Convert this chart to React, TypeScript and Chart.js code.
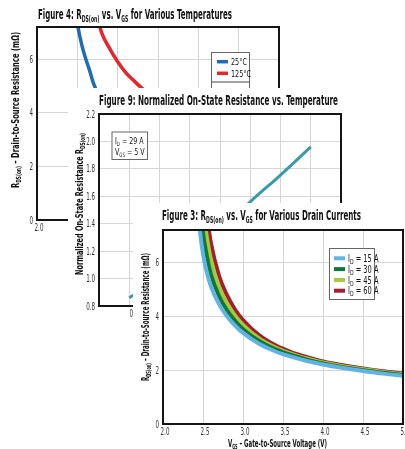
import { useEffect, useRef } from "react";
import { Chart, registerables } from "chart.js";

Chart.register(...registerables);

const FONT = '"Liberation Sans Narrow", "DejaVu Sans Condensed", "Liberation Sans", sans-serif';
const TICK_COLOR = "#333";
const GRID_COLOR = "#d6d6d6";

// ---- Figure 4: RDS(on) vs. VGS at two junction temperatures
const fig4Vgs25 = [2.45, 2.5, 2.55, 2.6, 2.65, 2.7, 2.8, 2.9, 3.0, 3.5, 4.0, 4.5, 5.0];
const fig4Rds25 = [8.6, 7.35, 6.6, 6.05, 5.6, 5.1, 4.45, 4.0, 3.65, 2.7, 2.25, 2.0, 1.85];
const fig4Vgs125 = [2.7, 2.75, 2.8, 2.9, 3.0, 3.1, 3.2, 3.3, 3.5, 4.0, 4.5, 5.0];
const fig4Rds125 = [8.6, 7.6, 7.0, 6.4, 5.9, 5.5, 5.2, 4.92, 4.45, 3.7, 3.3, 3.05];
const fig4Labels = ["25°C", "125°C"];
const fig4Colors = ["#1f6bb5", "#e5262d"];

// ---- Figure 9: normalized RDS(on) vs. junction temperature
const fig9Temp = [0, 25, 50, 75, 100, 125, 150];
const fig9Rnorm = [0.86, 1.0, 1.16, 1.35, 1.56, 1.755, 1.96];
const fig9Color = "#3b9aa8";

// ---- Figure 3: RDS(on) vs. VGS for four drain currents
const fig3Vgs = [2.4, 2.45, 2.5, 2.55, 2.6, 2.7, 2.8, 2.9, 3.0, 3.2, 3.4, 3.6, 3.8, 4.0, 4.25, 4.5, 4.75, 5.0];
const fig3Rds15 = [9.5, 7.5, 6.3, 5.6, 5.1, 4.45, 4.0, 3.65, 3.38, 2.98, 2.7, 2.5, 2.34, 2.21, 2.08, 1.97, 1.87, 1.79];
const fig3Rds30 = [11, 8.6, 7.1, 6.2, 5.55, 4.75, 4.22, 3.83, 3.52, 3.08, 2.78, 2.56, 2.39, 2.25, 2.11, 2.0, 1.9, 1.82];
const fig3Rds45 = [12.5, 9.8, 8.0, 6.9, 6.1, 5.1, 4.48, 4.02, 3.68, 3.18, 2.85, 2.61, 2.43, 2.28, 2.14, 2.03, 1.93, 1.85];
const fig3Rds60 = [14, 11, 9.0, 7.7, 6.7, 5.5, 4.78, 4.25, 3.86, 3.3, 2.93, 2.67, 2.48, 2.32, 2.18, 2.06, 1.96, 1.88];
const fig3Currents = [15, 30, 45, 60];
const fig3Colors = ["#62b3e3", "#0c7a3f", "#a5c93a", "#a31f2f"];

type Seg = { t: string; sub?: boolean };
type RichItem = {
  x: number;
  y: number;
  segs: Seg[];
  size: number;
  bold?: boolean;
  rotate?: boolean;
  align?: "left" | "center" | "right";
  fit?: number;
  sx?: number;
  color?: string;
};

// Draws a line of text with optional subscript runs, condensed horizontally.
function drawRich(ctx: CanvasRenderingContext2D, it: RichItem) {
  const w8 = it.bold ? "bold " : "";
  const main = `${w8}${it.size}px ${FONT}`;
  const sub = `${w8}${Math.round(it.size * 0.66)}px ${FONT}`;
  ctx.save();
  let natural = 0;
  for (const s of it.segs) {
    ctx.font = s.sub ? sub : main;
    natural += ctx.measureText(s.t).width;
  }
  const sx = it.fit ? it.fit / natural : it.sx ?? 1;
  ctx.translate(it.x, it.y);
  if (it.rotate) ctx.rotate(-Math.PI / 2);
  ctx.scale(sx, 1);
  ctx.fillStyle = it.color ?? "#111";
  ctx.textBaseline = "alphabetic";
  ctx.textAlign = "left";
  let cx = it.align === "center" ? -natural / 2 : it.align === "right" ? -natural : 0;
  const base = it.size * 0.36;
  for (const s of it.segs) {
    ctx.font = s.sub ? sub : main;
    ctx.fillText(s.t, cx, s.sub ? base + it.size * 0.2 : base);
    cx += ctx.measureText(s.t).width;
  }
  ctx.restore();
}

// Condensed tick labels for both axes, taken from the scales' own ticks.
function drawTickLabels(chart: Chart, fmtX: (v: number) => string, fmtY: (v: number) => string) {
  const ctx = chart.ctx;
  const a = chart.chartArea;
  const xs: any = chart.scales.x;
  const ys: any = chart.scales.y;
  for (const t of xs.ticks) {
    const s = fmtX(t.value);
    if (!s) continue;
    drawRich(ctx, { x: xs.getPixelForValue(t.value) + 2, y: a.bottom + 7, size: 10, sx: 0.62, align: "center", color: TICK_COLOR, segs: [{ t: s }] });
  }
  for (const t of ys.ticks) {
    const s = fmtY(t.value);
    if (!s) continue;
    drawRich(ctx, { x: a.left - 4, y: ys.getPixelForValue(t.value), size: 10, sx: 0.62, align: "right", color: TICK_COLOR, segs: [{ t: s }] });
  }
}

function drawFrame(chart: Chart) {
  const { ctx, chartArea: a } = chart;
  ctx.save();
  ctx.strokeStyle = "#151515";
  ctx.lineWidth = 2;
  ctx.strokeRect(a.left, a.top, a.right - a.left, a.bottom - a.top);
  ctx.restore();
}

function legendBox(ctx: CanvasRenderingContext2D, x0: number, y0: number, x1: number, y1: number) {
  ctx.save();
  ctx.fillStyle = "#fff";
  ctx.fillRect(x0, y0, x1 - x0, y1 - y0);
  ctx.strokeStyle = "#666";
  ctx.lineWidth = 1;
  ctx.strokeRect(x0 + 0.5, y0 + 0.5, x1 - x0, y1 - y0);
  ctx.restore();
}

function legendLine(ctx: CanvasRenderingContext2D, x0: number, x1: number, y: number, color: string, w: number) {
  ctx.save();
  ctx.strokeStyle = color;
  ctx.lineWidth = w;
  ctx.beginPath();
  ctx.moveTo(x0, y);
  ctx.lineTo(x1, y);
  ctx.stroke();
  ctx.restore();
}

type Box = { w: number; h: number; l: number; t: number; r: number; b: number };

function baseOptions(box: Box, x: any, y: any) {
  return {
    animation: false,
    responsive: false,
    events: [],
    layout: { padding: { left: 0, top: box.t, right: box.w - box.r, bottom: 0 } },
    plugins: { legend: { display: false }, tooltip: { enabled: false } },
    scales: {
      x: {
        type: "linear",
        ...x,
        afterFit: (s: any) => {
          s.height = box.h - box.b;
        },
        ticks: { display: false, autoSkip: false, ...x.ticks },
        grid: { color: GRID_COLOR, drawTicks: false },
        border: { display: false },
      },
      y: {
        type: "linear",
        ...y,
        afterFit: (s: any) => {
          s.width = box.l;
        },
        ticks: { display: false, includeBounds: false, ...y.ticks },
        grid: { color: GRID_COLOR, drawTicks: false },
        border: { display: false },
      },
    },
  };
}

const fmtVolt = (v: number) => v.toFixed(1);
const fmtInt = (v: number) => String(Math.round(v));
const fmtTemp = (v: number) => (Math.round(v) % 50 === 0 ? String(Math.round(v)) : "");

const rdsTitle: Seg[] = [{ t: "R" }, { t: "DS(on)", sub: true }, { t: " – Drain-to-Source Resistance (mΩ)" }];

function buildFig4(canvas: HTMLCanvasElement, box: Box) {
  const series = [
    { xs: fig4Vgs25, ys: fig4Rds25 },
    { xs: fig4Vgs125, ys: fig4Rds125 },
  ];
  const decor = {
    id: "decor4",
    afterDatasetsDraw(chart: Chart) {
      drawFrame(chart);
    },
    afterDraw(chart: Chart) {
      const ctx = chart.ctx;
      drawTickLabels(chart, fmtVolt, fmtInt);
      drawRich(ctx, {
        x: 38, y: 14, bold: true, size: 14, fit: 194,
        segs: [{ t: "Figure 4: R" }, { t: "DS(on)", sub: true }, { t: " vs. V" }, { t: "GS", sub: true }, { t: " for Various Temperatures" }],
      });
      drawRich(ctx, { x: 15, y: 110, bold: true, size: 11, fit: 156, rotate: true, align: "center", segs: rdsTitle });
      legendBox(ctx, 211, 52, 249, 104);
      chart.data.datasets.forEach((ds: any, i: number) => {
        const y = 61.7 + i * 11.6;
        legendLine(ctx, 217, 228, y, ds.borderColor, 3.5);
        drawRich(ctx, { x: 231, y, size: 9, sx: 0.8, segs: [{ t: fig4Labels[i] }] });
      });
      legendLine(ctx, 212, 249, 82, "#444", 1);
    },
  };
  return new Chart(canvas, {
    type: "line",
    data: {
      datasets: series.map((s, i) => ({
        label: fig4Labels[i],
        data: s.xs.map((v, j) => ({ x: v, y: s.ys[j] })),
        borderColor: fig4Colors[i],
        borderWidth: 3.5,
        pointRadius: 0,
        cubicInterpolationMode: "monotone",
        fill: false,
      })),
    },
    options: baseOptions(box, { min: 2, max: 5, ticks: { stepSize: 0.5 } }, { min: 0, max: 7.2, ticks: { stepSize: 2 } }) as any,
    plugins: [decor],
  });
}

function buildFig9(canvas: HTMLCanvasElement, box: Box) {
  const decor = {
    id: "decor9",
    afterDatasetsDraw(chart: Chart) {
      drawFrame(chart);
    },
    afterDraw(chart: Chart) {
      const ctx = chart.ctx;
      drawTickLabels(chart, fmtTemp, fmtVolt);
      drawRich(ctx, {
        x: 31, y: 12, bold: true, size: 14, fit: 239,
        segs: [{ t: "Figure 9: Normalized On-State Resistance vs. Temperature" }],
      });
      drawRich(ctx, {
        x: 11, y: 116, bold: true, size: 11, fit: 142, rotate: true, align: "center",
        segs: [{ t: "Normalized On-State Resistance R" }, { t: "DS(on)", sub: true }],
      });
      legendBox(ctx, 43.5, 43.5, 79, 71);
      drawRich(ctx, { x: 47, y: 52.5, size: 9.5, sx: 0.74, segs: [{ t: "I" }, { t: "D", sub: true }, { t: " = 29 A" }] });
      drawRich(ctx, { x: 47, y: 63.5, size: 9.5, sx: 0.74, segs: [{ t: "V" }, { t: "GS", sub: true }, { t: " = 5 V" }] });
    },
  };
  return new Chart(canvas, {
    type: "line",
    data: {
      datasets: [
        {
          label: "RDS(on) normalized",
          data: fig9Temp.map((t, j) => ({ x: t, y: fig9Rnorm[j] })),
          borderColor: fig9Color,
          borderWidth: 3,
          pointRadius: 0,
          cubicInterpolationMode: "monotone",
          fill: false,
        },
      ],
    },
    options: baseOptions(box, { min: -25, max: 175, ticks: { stepSize: 25 } }, { min: 0.8, max: 2.2, ticks: { stepSize: 0.2 } }) as any,
    plugins: [decor],
  });
}

function buildFig3(canvas: HTMLCanvasElement, box: Box) {
  const series = [fig3Rds15, fig3Rds30, fig3Rds45, fig3Rds60];
  const decor = {
    id: "decor3",
    afterDatasetsDraw(chart: Chart) {
      drawFrame(chart);
    },
    afterDraw(chart: Chart) {
      const ctx = chart.ctx;
      drawTickLabels(chart, fmtVolt, fmtInt);
      drawRich(ctx, {
        x: 29, y: 12, bold: true, size: 14, fit: 199,
        segs: [{ t: "Figure 3: R" }, { t: "DS(on)", sub: true }, { t: " vs. V" }, { t: "GS", sub: true }, { t: " for Various Drain Currents" }],
      });
      drawRich(ctx, { x: 12, y: 114, bold: true, size: 11, fit: 128, rotate: true, align: "center", segs: rdsTitle });
      drawRich(ctx, {
        x: 144.5, y: 240, bold: true, size: 11, fit: 99, align: "center",
        segs: [{ t: "V" }, { t: "GS", sub: true }, { t: " – Gate-to-Source Voltage (V)" }],
      });
      legendBox(ctx, 196, 45, 241, 96);
      chart.data.datasets.forEach((ds: any, i: number) => {
        const y = 55.3 + i * 10.8;
        legendLine(ctx, 201, 212, y, ds.borderColor, 4);
        drawRich(ctx, { x: 215, y, size: 10, sx: 0.74, segs: [{ t: "I" }, { t: "D", sub: true }, { t: ` = ${fig3Currents[i]} A` }] });
      });
    },
  };
  return new Chart(canvas, {
    type: "line",
    data: {
      datasets: series.map((ys, i) => ({
        label: `ID = ${fig3Currents[i]} A`,
        data: fig3Vgs.map((v, j) => ({ x: v, y: ys[j] })),
        borderColor: fig3Colors[i],
        borderWidth: 4,
        pointRadius: 0,
        cubicInterpolationMode: "monotone",
        fill: false,
      })),
    },
    options: baseOptions(box, { min: 2, max: 5, ticks: { stepSize: 0.5 } }, { min: 0, max: 7.2, ticks: { stepSize: 2 } }) as any,
    plugins: [decor],
  });
}

function ChartCard(props: {
  left: number;
  top: number;
  box: Box;
  build: (c: HTMLCanvasElement, b: Box) => Chart;
}) {
  const ref = useRef<HTMLCanvasElement>(null);
  const { left, top, box, build } = props;
  useEffect(() => {
    const chart = build(ref.current!, box);
    return () => chart.destroy();
  }, []);
  return (
    <div style={{ position: "absolute", left, top, width: box.w, height: box.h, background: "#fff" }}>
      <canvas ref={ref} width={box.w} height={box.h} style={{ display: "block" }} />
    </div>
  );
}

export default function App() {
  return (
    <div
      style={{
        position: "absolute",
        left: 0,
        top: 0,
        width: 405,
        height: 449,
        overflow: "hidden",
        background: "#fff",
      }}
    >
      <ChartCard left={0} top={0} box={{ w: 290, h: 240, l: 37, t: 27, r: 279, b: 220 }} build={buildFig4} />
      <ChartCard left={68} top={88} box={{ w: 280, h: 236, l: 31, t: 26, r: 273, b: 218 }} build={buildFig9} />
      <ChartCard left={133} top={203} box={{ w: 285, h: 246, l: 30, t: 27, r: 270, b: 221 }} build={buildFig3} />
    </div>
  );
}
